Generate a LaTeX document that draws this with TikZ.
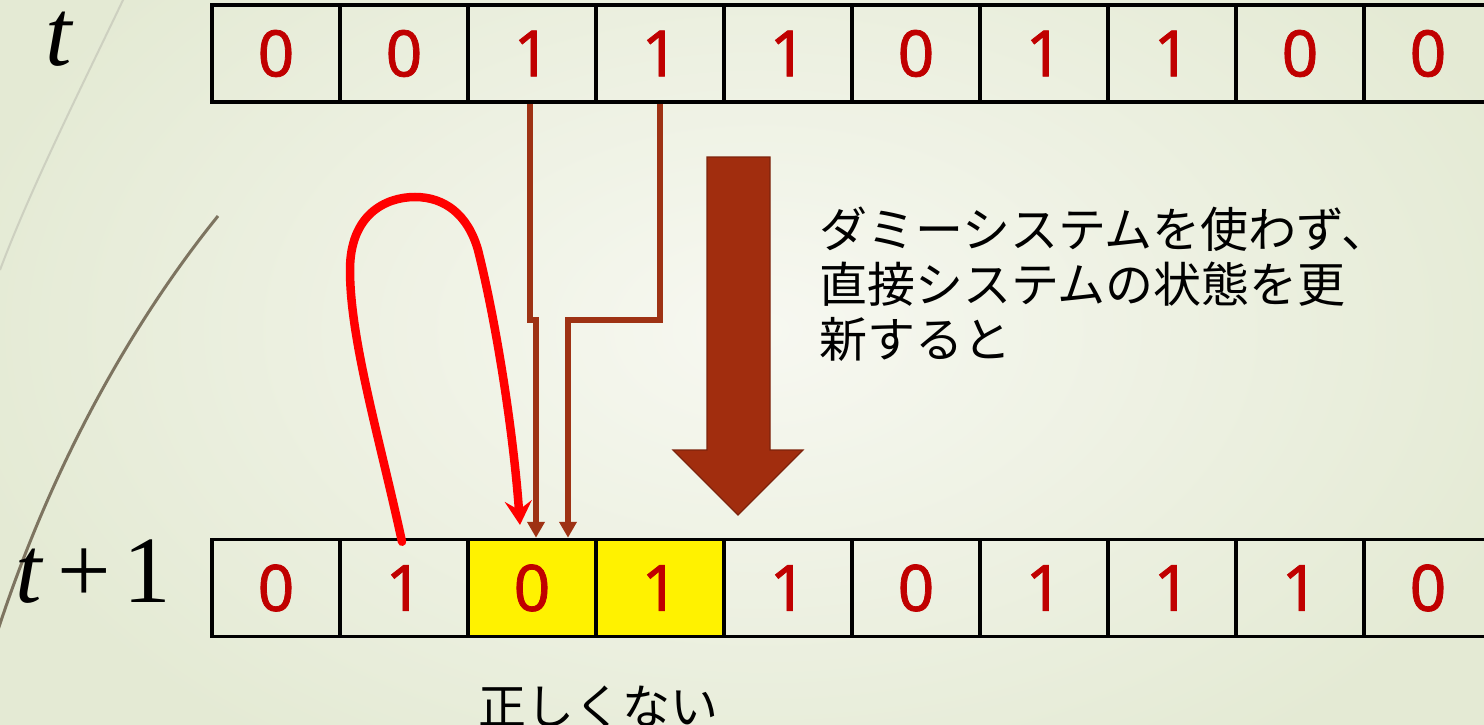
\documentclass[tikz,border=0pt]{standalone}
\usepackage{fontspec}
\setmainfont{Liberation Serif}
\newfontfamily\jpfont{Noto Sans CJK JP}
\newfontfamily\digfont[FakeBold=1.2]{Noto Sans}
\usetikzlibrary{arrows.meta}
\definecolor{bgA}{RGB}{228,234,212}
\definecolor{bgB}{RGB}{247,248,241}
\definecolor{digred}{RGB}{192,0,0}
\definecolor{brownln}{RGB}{158,50,20}
\definecolor{bigarrow}{RGB}{161,45,14}
\definecolor{bigarrowedge}{RGB}{125,35,12}
\definecolor{deco}{RGB}{125,116,96}
\definecolor{decolight}{RGB}{205,208,192}
\begin{document}
\begin{tikzpicture}[x=1pt,y=-1pt,
  cell/.style={draw=black,line width=3.5pt,minimum width=128pt,minimum height=97pt,inner sep=0pt,
    text=digred,font=\digfont\fontsize{64}{64}\selectfont},
  hcell/.style={cell,fill=yellow},
  brownarr/.style={draw=brownln,line width=5.5pt,-{Triangle[width=17pt,length=16pt]}},
  redarr/.style={draw=red,line width=8.5pt,line cap=round,-{Stealth[width=27pt,length=24pt,inset=9pt]}},
  jp/.style={font=\jpfont\fontsize{48}{55}\selectfont,inner sep=0pt},
  tlab/.style={font=\fontsize{95}{95}\selectfont,inner sep=0pt,anchor=base west}]
\useasboundingbox (0,0) rectangle (1484,725);
\clip (0,0) rectangle (1484,725);
% background
\fill[bgA] (0,0) rectangle (1484,725);
\shade[inner color=bgB,outer color=bgA] (760,330) ellipse (820pt and 520pt);
% decorative curves
\draw[decolight,line width=2pt] (124,-2) .. controls (80,90) and (30,190) .. (0,270);
\draw[deco,line width=3pt] (218,216) .. controls (150,300) and (60,440) .. (-2,630);
% labels
\node[tlab] (tt) at (45,66) {\itshape t};
\node[tlab] (tt1) at (15,602) {{\itshape t}\hspace{16pt}+\hspace{12pt}1};
% top row
\foreach \i/\v in {1/0,2/0,3/1,4/1,5/1,6/0,7/1,8/1,9/0,10/0}{
  \node[cell] (t\i) at ({212+128*(\i-1)+64},53.5) {\v};
}
% bottom row
\foreach \i/\v in {1/0,2/1,5/1,6/0,7/1,8/1,9/1,10/0}{
  \node[cell] (u\i) at ({212+128*(\i-1)+64},588) {\v};
}
\node[hcell] (u3) at (532,588) {0};
\node[hcell] (u4) at (660,588) {1};
% brown connectors
\coordinate (j1) at (536,320);
\coordinate (j2) at (568,320);
\draw[brownarr] ([xshift=-2pt]t3.south) |- (j1) -- (j1 |- u3.north);
\draw[brownarr] (t4.south) |- (j2) -- (j2 |- u3.north);
% red curve
\coordinate (redend) at (520,525);
\draw[redarr] ([xshift=-2pt,yshift=-4pt]u2.north) .. controls (380,440) and (350,340) .. (350,270)
  .. controls (350,215) and (385,197) .. (415,197)
  .. controls (445,197) and (468,215) .. (478,250)
  .. controls (498,330) and (514,440) .. (redend);
% big arrow
\filldraw[fill=bigarrow,draw=bigarrowedge,line width=1.2pt]
  (707,157) -- (770,157) -- (770,450) -- (803,450) -- (738,515) -- (673,450) -- (707,450) -- cycle;
% texts
\node[jp,anchor=north west,align=left] (desc) at (819,207)
  {ダミーシステムを使わず、\\直接システムの状態を更\\新すると};
\node[jp,anchor=base west] (wrong) at (478,724) {正しくない};
\end{tikzpicture}
\end{document}
